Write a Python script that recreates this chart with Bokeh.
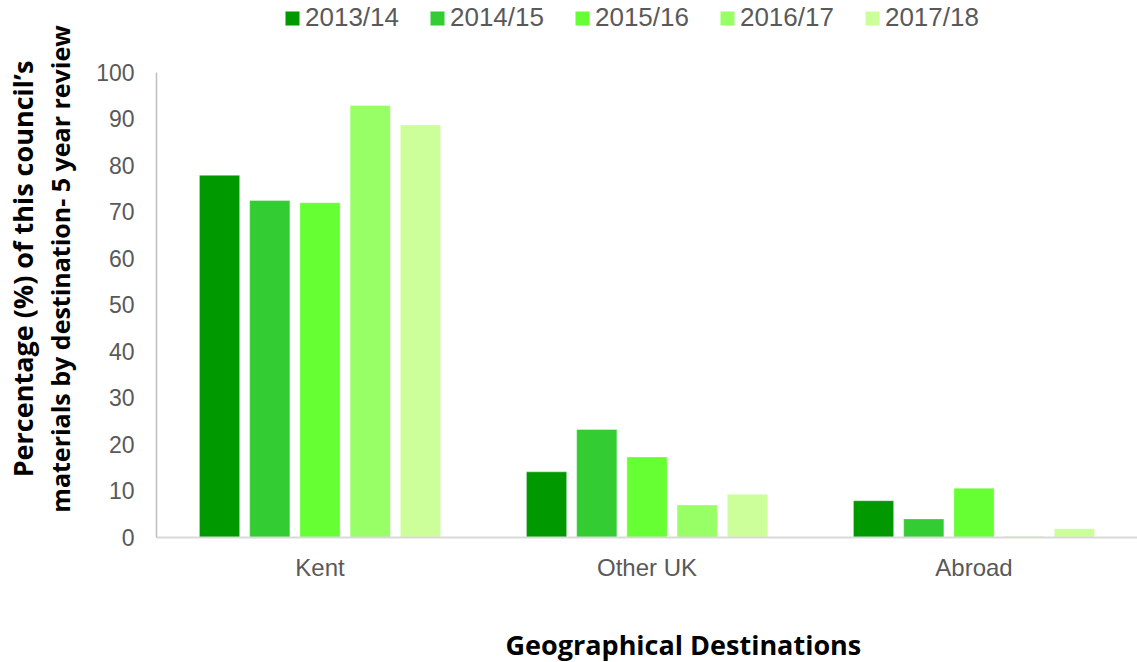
from bokeh.plotting import figure
from bokeh.models import ColumnDataSource, FactorRange, Legend, LegendItem, Title, FixedTicker, Range1d
from bokeh.transform import dodge
from bokeh.embed import file_html
from bokeh.resources import INLINE

destinations = ["Kent", "Other UK", "Abroad"]
years = ["2013/14", "2014/15", "2015/16", "2016/17", "2017/18"]
v_2013_14 = [77.8, 14.1, 7.9]
v_2014_15 = [72.4, 23.2, 4.0]
v_2015_16 = [71.9, 17.3, 10.6]
v_2016_17 = [92.8, 7.0, 0.2]
v_2017_18 = [88.6, 9.3, 1.9]
y_ticks = [0, 10, 20, 30, 40, 50, 60, 70, 80, 90, 100]

series = [v_2013_14, v_2014_15, v_2015_16, v_2016_17, v_2017_18]
colors = ["#009900", "#33CC33", "#66FF33", "#99FF66", "#CCFF99"]

data = {"dest": destinations}
for i, s in enumerate(series):
    data["s%d" % i] = s
src = ColumnDataSource(data)

W, H = 1137, 662
LEFT, BOTTOM = 156, 125
frame_h = H - BOTTOM
y_top = 100 * frame_h / 465.5

p = figure(x_range=FactorRange(*destinations, range_padding=0),
           y_range=Range1d(0, y_top),
           width=W, height=H, output_backend="svg", toolbar_location=None,
           min_border_left=LEFT, min_border_right=0, min_border_top=0,
           min_border_bottom=BOTTOM, outline_line_color=None)
p.xgrid.grid_line_color = None
p.ygrid.grid_line_color = None

step = 0.1536
items = []
for i, (yr, c) in enumerate(zip(years, colors)):
    r = p.vbar(x=dodge("dest", (i - 2) * step, range=p.x_range), top="s%d" % i,
               width=0.123, source=src, fill_color=c, line_color="white",
               line_alpha=0.35, line_width=1)
    items.append(LegendItem(label=yr, renderers=[r]))

# y axis (spacer axis label to push the titles outward)
p.yaxis.ticker = FixedTicker(ticks=y_ticks)
p.yaxis.bounds = (0, 100)
p.yaxis.axis_line_color = "#BFBFBF"
p.yaxis.axis_line_width = 1.5
p.yaxis.major_tick_out = 0
p.yaxis.major_tick_in = 0
p.yaxis.minor_tick_out = 0
p.yaxis.minor_tick_in = 0
p.yaxis.major_label_standoff = 22
p.yaxis.major_label_text_font = "Liberation Sans"
p.yaxis.major_label_text_font_size = "23px"
p.yaxis.major_label_text_color = "#595959"
p.yaxis.axis_label = " "
p.yaxis.axis_label_text_font_size = "1px"
p.yaxis.axis_label_standoff = 13

# x axis
p.xaxis.axis_line_color = "#D9D9D9"
p.xaxis.axis_line_width = 2
p.xaxis.major_tick_out = 0
p.xaxis.major_tick_in = 0
p.xaxis.minor_tick_out = 0
p.xaxis.minor_tick_in = 0
p.xaxis.major_label_standoff = 16
p.xaxis.major_label_text_font = "Liberation Sans"
p.xaxis.major_label_text_font_size = "24px"
p.xaxis.major_label_text_color = "#595959"
p.xaxis.axis_label = " "
p.xaxis.axis_label_text_font_size = "1px"
p.xaxis.axis_label_standoff = 36

# axis titles
p.add_layout(Title(text="Geographical Destinations", align="left", offset=349,
                   text_font="Open Sans", text_font_style="bold", text_font_size="27px",
                   text_color="#000000", standoff=0), "below")
p.add_layout(Title(text="materials by destination- 5 year review", align="center",
                   text_font="Open Sans", text_font_style="bold", text_font_size="25px",
                   text_color="#000000", standoff=0), "left")
p.add_layout(Title(text="Percentage (%) of this council\u2019s", align="center",
                   text_font="Open Sans", text_font_style="bold", text_font_size="27px",
                   text_color="#000000", standoff=0), "left")

# legend inside the (tall) frame, above the 100 line
legend = Legend(items=items, orientation="horizontal", location=(127, frame_h - 33),
                glyph_width=18, glyph_height=18, label_standoff=4, spacing=29,
                label_text_font="Liberation Sans", label_text_font_size="26px",
                label_text_color="#595959", margin=0, padding=0,
                border_line_color=None, background_fill_alpha=0)
p.add_layout(legend, "center")

open("out.html", "w").write(file_html(p, INLINE))
